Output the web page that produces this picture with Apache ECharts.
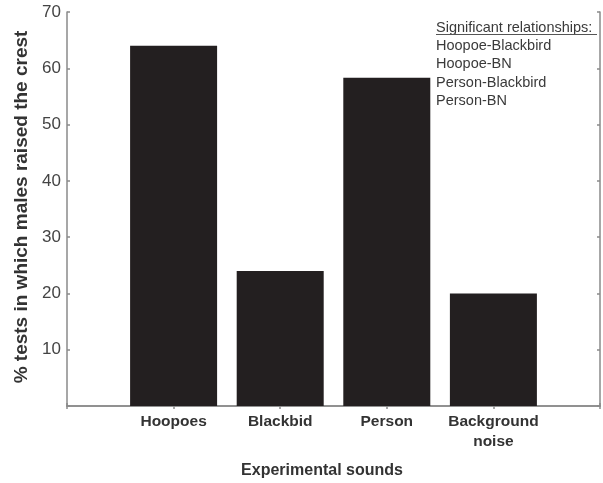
<!DOCTYPE html>
<html>
<head>
<meta charset="utf-8">
<script src="https://cdn.jsdelivr.net/npm/echarts@6/dist/echarts.min.js"></script>
<style>
html,body{margin:0;padding:0;background:#fff;}
#chart{width:603px;height:483px;}
</style>
</head>
<body>
<div id="chart"></div>
<script>
var categories = ['Hoopoes', 'Blackbid', 'Person', 'Background\nnoise'];
var values = [64, 24, 58.3, 20];
var yTicks = [10, 20, 30, 40, 50, 60, 70];
var yAxisTitle = '% tests in which males raised the crest';
var xAxisTitle = 'Experimental sounds';
var noteTitle = 'Significant relationships:';
var noteLines = ['Hoopoe-Blackbird', 'Hoopoe-BN', 'Person-Blackbird', 'Person-BN'];

var axisData = [''].concat(categories).concat(['']);
var seriesData = [null].concat(values).concat([null]);

var font = 'Liberation Sans, Arial, sans-serif';
var lineStyle = {color: '#8a8a8a', width: 1.5};

var chart = echarts.init(document.getElementById('chart'), null, {renderer: 'canvas'});
chart.setOption({
  animation: false,
  backgroundColor: '#ffffff',
  grid: {left: 67, right: 2, top: 12, bottom: 77, containLabel: false},
  xAxis: [{
    type: 'category',
    data: axisData,
    boundaryGap: false,
    position: 'bottom',
    axisLine: {lineStyle: lineStyle},
    axisTick: {show: true, inside: true, length: 3, lineStyle: lineStyle},
    axisLabel: {
      interval: 0, margin: 6, color: '#333', fontFamily: font,
      fontWeight: 'bold', fontSize: 15.5, lineHeight: 20
    },
    splitLine: {show: false}
  }, {
    type: 'category',
    data: axisData,
    boundaryGap: false,
    position: 'top',
    axisLine: {lineStyle: lineStyle},
    axisTick: {show: true, inside: true, length: 3, lineStyle: lineStyle},
    axisLabel: {show: false},
    splitLine: {show: false}
  }],
  yAxis: [{
    type: 'value',
    min: 0, max: 70, interval: 10,
    position: 'left',
    axisLine: {show: true, lineStyle: lineStyle},
    axisTick: {show: true, inside: true, length: 3, lineStyle: lineStyle},
    axisLabel: {
      margin: 6, color: '#444', fontFamily: font, fontSize: 17,
      formatter: function (v) { return yTicks.indexOf(v) >= 0 ? String(v) : ''; }
    },
    splitLine: {show: false}
  }, {
    type: 'value',
    min: 0, max: 70, interval: 10,
    position: 'right',
    axisLine: {show: true, lineStyle: lineStyle},
    axisTick: {show: true, inside: true, length: 3, lineStyle: lineStyle},
    axisLabel: {show: false},
    splitLine: {show: false}
  }],
  series: [{
    type: 'bar',
    data: seriesData,
    xAxisIndex: 0,
    yAxisIndex: 0,
    barWidth: 87,
    itemStyle: {color: '#231f20'}
  }],
  graphic: [{
    type: 'text',
    x: 22, y: 207,
    rotation: Math.PI / 2,
    style: {
      text: yAxisTitle, font: 'bold 19px ' + font, fill: '#333',
      textAlign: 'center', textVerticalAlign: 'middle'
    }
  }, {
    type: 'text',
    x: 322, y: 471,
    style: {
      text: xAxisTitle, font: 'bold 16px ' + font, fill: '#333',
      textAlign: 'center', textVerticalAlign: 'middle'
    }
  }, {
    type: 'text',
    x: 436, y: 28,
    style: {
      text: noteTitle, font: '14.5px ' + font, fill: '#3a3a3a',
      textAlign: 'left', textVerticalAlign: 'middle'
    }
  }, {
    type: 'line',
    shape: {x1: 436, y1: 34.5, x2: 597, y2: 34.5},
    style: {stroke: '#555', lineWidth: 1}
  }, {
    type: 'text',
    x: 436, y: 37,
    style: {
      text: noteLines.join('\n'), font: '14.5px ' + font, fill: '#3a3a3a',
      lineHeight: 18.3, textAlign: 'left', textVerticalAlign: 'top'
    }
  }]
});
</script>
</body>
</html>
